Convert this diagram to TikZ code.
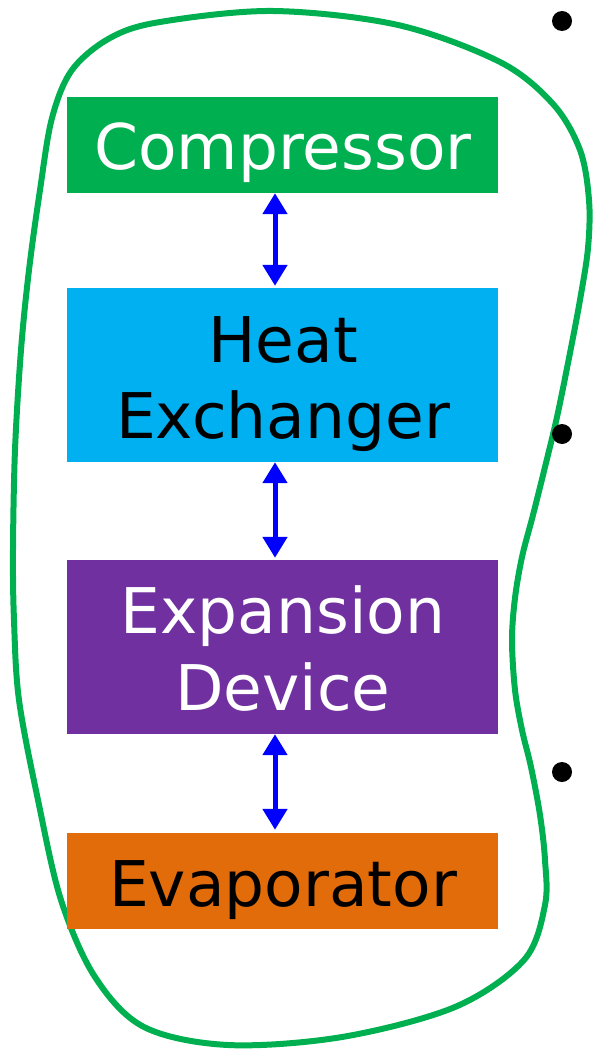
\documentclass[tikz,border=0pt]{standalone}
\usepackage{fontspec}
\setmainfont{DejaVu Sans}
\usetikzlibrary{arrows.meta}
\definecolor{cgreen}{HTML}{00B050}
\definecolor{ccyan}{HTML}{00B0F0}
\definecolor{cpurple}{HTML}{7030A0}
\definecolor{corange}{HTML}{E26B0A}
\definecolor{cblue}{HTML}{0000FF}
\tikzset{
  box/.style={rectangle, inner sep=0pt, minimum width=431pt},
  lbl/.style={anchor=base, inner sep=0pt, font=\fontsize{63}{76}\selectfont},
  dbl/.style={cblue, line width=5pt, {Triangle[width=24pt,length=21pt]}-{Triangle[width=24pt,length=21pt]}},
  blob/.style={cgreen, line width=6pt},
  dot/.style={circle, fill=black, inner sep=0pt, minimum size=20pt}
}
\begin{document}
\begin{tikzpicture}[x=1pt,y=-1pt]
\useasboundingbox (0,0) rectangle (595,1051);
\draw[blob] plot[smooth cycle, tension=0.55] coordinates {
 (273,11) (398,25) (500,62) (553,104) (580,150) (589,200) (588,248) (580,300)
 (569,358) (557,417) (545,467) (533,515) (522,557) (515,598) (512,640) (515,690)
 (522,730) (531,767) (540,815) (545,860)
 (545,905) (524,960) (455,1007) (342,1037) (228,1045) (144,1027) (95,977)
 (61,900) (38,800) (19,700) (14,620) (13,550) (15,450) (21,350) (29,270)
 (40,190) (52,118) (72,70) (110,38) (160,22)};
\node[box, fill=cgreen, minimum height=96pt] (comp) at (282.5,145) {};
\node[box, fill=ccyan, minimum height=174pt] (hx) at (282.5,375) {};
\node[box, fill=cpurple, minimum height=174pt] (exp) at (282.5,647) {};
\node[box, fill=corange, minimum height=96pt] (evap) at (282.5,881) {};
\node[lbl, text=white] (tcomp) at (283,170) {Compressor};
\node[lbl, text=black] (thx1) at (283,362) {Heat};
\node[lbl, text=black] (thx2) at (283,438) {Exchanger};
\node[lbl, text=white] (texp1) at (283,633) {Expansion};
\node[lbl, text=white] (texp2) at (283,710) {Device};
\node[lbl, text=black] (tevap) at (283,906) {Evaporator};
\draw[dbl] ([xshift=-7.5pt]comp.south) -- ([xshift=-7.5pt,yshift=2pt]hx.north);
\draw[dbl] ([xshift=-7.5pt]hx.south) -- ([xshift=-7.5pt,yshift=2pt]exp.north);
\draw[dbl] ([xshift=-7.5pt]exp.south) -- ([xshift=-7.5pt,yshift=3pt]evap.north);
\node[dot] (b1) at (562,21) {};
\node[dot] (b2) at (562,434) {};
\node[dot] (b3) at (562,772) {};
\end{tikzpicture}
\end{document}
